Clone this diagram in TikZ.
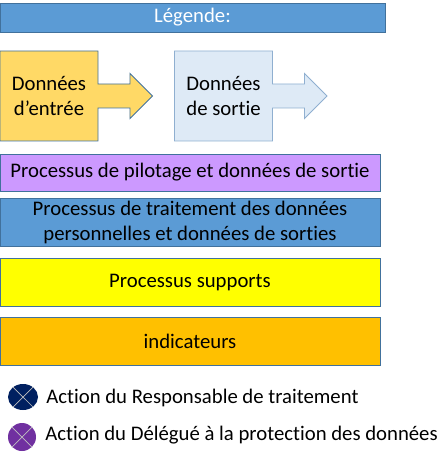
\documentclass[tikz,border=0pt]{standalone}
\usepackage{fontspec}
\setmainfont{Carlito}[Ligatures=NoCommon]
\usepackage{xcolor}
\usetikzlibrary{positioning, shapes.arrows, shapes.geometric}

\definecolor{edgeblue}{HTML}{41719C}
\definecolor{softblue}{HTML}{8FAFD0}
\definecolor{titleblue}{HTML}{5B9BD5}
\definecolor{inputyellow}{HTML}{FFD966}
\definecolor{outputblue}{HTML}{DEEAF6}
\definecolor{pilotpurple}{HTML}{CC99FF}
\definecolor{supportyellow}{HTML}{FFFF00}
\definecolor{kpiorange}{HTML}{FFC000}
\definecolor{rtnavy}{HTML}{002060}
\definecolor{dpopurple}{HTML}{7030A0}

\begin{document}
\begin{tikzpicture}[
    node distance=0.21cm and 0.54cm,
    every node/.style={font=\fontsize{11.8}{14.2}\selectfont},
    band/.style={draw=edgeblue, line width=0.5pt, align=center, inner sep=0pt, minimum width=7.6cm},
    databox/.style={draw=edgeblue, line width=0.5pt, align=center, inner sep=0pt, minimum width=1.96cm, minimum height=1.8cm,
        shape=arrow box, arrow box arrows={east:1.08cm}, arrow box shaft width=0.48cm,
        arrow box head extend=0.21cm, arrow box tip angle=90},
    role/.style={ellipse, inner sep=0pt, minimum width=0.58cm, minimum height=0.54cm},
    cross/.style={white!75!black, line width=0.4pt},
    legendtext/.style={anchor=west, inner sep=0pt}
]
    \useasboundingbox (0,0) rectangle (8.88,-9.10);

    \node[band, minimum width=7.7cm, minimum height=0.58cm, fill=titleblue, text=white] (title) at (3.85,-0.35) {Légende:};
    \node[databox, fill=inputyellow] (input) at (0.98,-1.92) {Données\\d’entrée};
    \node[databox, draw=softblue, fill=outputblue] (output) at (4.47,-1.92) {Données\\de sortie};

    \node[band, minimum height=0.74cm, fill=pilotpurple] (pilot) at (3.8,-3.45) {Processus de pilotage et données de sortie};
    \node[band, minimum height=0.96cm, fill=titleblue, below=0.14cm of pilot] (core) {Processus de traitement des données\\personnelles et données de sorties};
    \node[band, minimum height=0.96cm, fill=supportyellow, below=of core] (support) {Processus supports};
    \node[band, minimum height=0.96cm, fill=kpiorange, below=of support] (kpi) {indicateurs};

    \node[role, fill=rtnavy, minimum width=0.6cm, minimum height=0.52cm] (rt) at (0.46,-7.94) {};
    \node[role, fill=dpopurple, minimum width=0.56cm, minimum height=0.56cm] (dpo) at (0.44,-8.74) {};
    \node[legendtext] (rtlabel) at (0.92,-7.96) {Action du Responsable de traitement};
    \node[legendtext] (dpolabel) at (0.90,-8.70) {Action du Délégué à la protection des données};

    \foreach \n in {rt, dpo} {
        \draw[cross] (\n.45) -- (\n.225);
        \draw[cross] (\n.135) -- (\n.315);
    }
\end{tikzpicture}
\end{document}
